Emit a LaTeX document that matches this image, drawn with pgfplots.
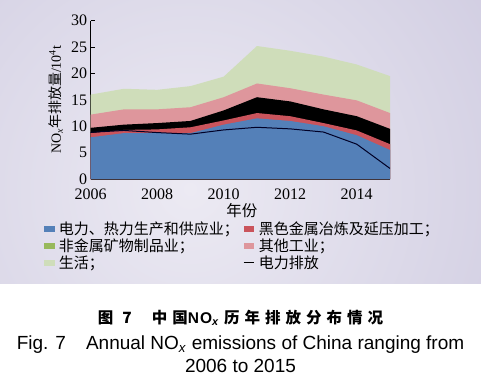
\documentclass[border=0pt]{standalone}
\usepackage{fontspec}
\setmainfont{Liberation Serif}
\newfontfamily\cjk{Noto Sans CJK SC}
\newfontfamily\arial{Liberation Sans}
\usepackage{pgfplots}
\usepackage{pgfplotstable}
\pgfplotsset{compat=1.18}

\definecolor{cblue}{RGB}{84,128,184}
\definecolor{cred}{RGB}{202,84,92}
\definecolor{cgreen}{RGB}{152,185,92}
\definecolor{cpink}{RGB}{222,150,156}
\definecolor{clgreen}{RGB}{207,221,186}
\definecolor{bglight}{RGB}{236,234,243}
\definecolor{bgdark}{RGB}{186,181,211}

\pgfplotsset{
  sqleg/.style={legend image code/.code={\fill[##1] (0pt,-2.8pt) rectangle (10.5pt,2.8pt);}},
  lnleg/.style={legend image code/.code={\draw[##1] (0pt,0pt) -- (10.5pt,0pt);}},
}

% cumulative tops of the stacked areas (10^4 t scale as in chart)
\pgfplotstableread{
year blue red nonmetal other life line
2006 7.9  8.7  9.7  12.2 16.0 8.85
2007 8.7  9.3  10.3 13.2 17.1 9.2
2008 8.7  9.4  10.6 13.2 16.9 8.8
2009 8.7  9.8  11.0 13.6 17.6 8.5
2010 10.3 11.1 13.0 15.5 19.4 9.3
2011 11.5 12.5 15.5 18.1 25.2 9.8
2012 11.0 11.9 14.7 17.2 24.3 9.5
2013 10.0 10.6 13.2 16.0 23.2 8.9
2014 8.3  9.2  11.9 14.9 21.7 6.6
2015 5.5  6.6  9.5  12.5 19.5 2.0
}\datatable

\begin{document}
\begin{tikzpicture}[x=1pt,y=1pt]
\useasboundingbox (0,0) rectangle (481,389);
\fill[white] (0,0) rectangle (481,389);
\begin{scope}
\clip (0,106) rectangle (481,389);
\shade[inner color=bglight, outer color=bgdark] (190,200) circle (680);
\end{scope}

\begin{axis}[
  at={(90.7pt,210pt)}, anchor=south west,
  scale only axis, width=299.3pt, height=158.3pt,
  xmin=2006, xmax=2015, ymin=0, ymax=30,
  axis x line=bottom, axis y line=left,
  axis line style={-, black, line width=0.9pt},
  xtick={2006,2008,...,2014}, ytick={0,5,...,30},
  tick align=inside, major tick length=4pt,
  tick style={black, line width=0.8pt},
  /pgf/number format/assume math mode=true,
  tick label style={font=\fontsize{16}{18}\selectfont, inner sep=0.5pt},
  x tick label style={/pgf/number format/1000 sep={}, yshift=-9pt},
  y tick label style={xshift=-2.8pt},
  xlabel={\cjk 年份},
  xlabel style={at={(axis description cs:0.505,-0.2)}, anchor=center, font=\fontsize{15.5}{17}\selectfont},
  ylabel={NO\textsubscript{\textit{x}}{\cjk 年排放量}/10\textsuperscript{4}t},
  ylabel style={at={(axis description cs:-0.116,0.5)}, anchor=center, font=\fontsize{14}{16}\selectfont},
  legend columns=2,
  legend style={draw=none, fill=none, inner sep=0pt,
    at={(axis description cs:-0.156,-0.262)}, anchor=north west,
    font=\cjk\fontsize{15}{17}\selectfont,
    nodes={inner sep=1.2pt, anchor=west}, row sep=0.3pt,
    /tikz/every odd column/.append style={column sep=3pt},
    /tikz/every even column/.append style={column sep=3pt}},
  legend cell align=left,
]
\addplot[fill=clgreen, draw=none, forget plot] table[x=year,y=life] {\datatable} \closedcycle;
\addplot[fill=cpink, draw=none, forget plot] table[x=year,y=other] {\datatable} \closedcycle;
\addplot[fill=black, draw=none, forget plot] table[x=year,y=nonmetal] {\datatable} \closedcycle;
\addplot[fill=cred, draw=none, forget plot] table[x=year,y=red] {\datatable} \closedcycle;
\addplot[fill=cblue, draw=none, forget plot] table[x=year,y=blue] {\datatable} \closedcycle;
\addplot[color=black!85!blue, line width=1pt, forget plot] table[x=year,y=line] {\datatable};

\addlegendimage{fill=cblue, draw=none, sqleg}
\addlegendentry{电力、热力生产和供应业；}
\addlegendimage{fill=cred, draw=none, sqleg}
\addlegendentry{黑色金属冶炼及延压加工；}
\addlegendimage{fill=cgreen, draw=none, sqleg}
\addlegendentry{非金属矿物制品业；}
\addlegendimage{fill=cpink, draw=none, sqleg}
\addlegendentry{其他工业；}
\addlegendimage{fill=clgreen, draw=none, sqleg}
\addlegendentry{生活；}
\addlegendimage{draw=black, line width=1pt, lnleg}
\addlegendentry{电力排放}
\end{axis}

\node[anchor=center, font=\cjk\bfseries\fontsize{15.5}{17}\selectfont] at (240.5,71)
  {图\hspace{9pt}7\hspace{20pt}中\hspace{5pt}国{\arial N\hspace{1pt}O\textsubscript{\textit{x}}}\hspace{5pt}历\hspace{5pt}年\hspace{5pt}排\hspace{5pt}放\hspace{5pt}分\hspace{5pt}布\hspace{5pt}情\hspace{5pt}况};
\node[anchor=center, font=\arial\fontsize{19}{21}\selectfont] at (240.5,44)
  {Fig. 7\hspace{20pt}Annual NO\textsubscript{\textit{x}} emissions of China ranging from};
\node[anchor=center, font=\arial\fontsize{19}{21}\selectfont] at (240.5,23) {2006 to 2015};
\end{tikzpicture}
\end{document}
